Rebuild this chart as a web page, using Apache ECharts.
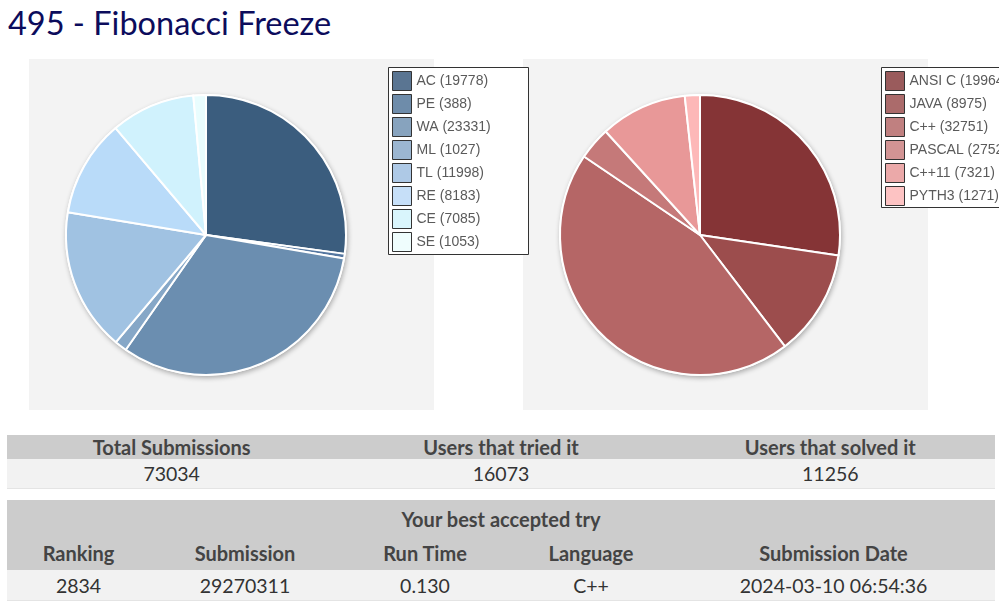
<!DOCTYPE html>
<html>
<head>
<meta charset="utf-8">
<script src="https://cdn.jsdelivr.net/npm/echarts@6/dist/echarts.min.js"></script>
<style>
  html, body { margin: 0; padding: 0; background: #fff; width: 999px; height: 604px; overflow: hidden; }
  #title { position: absolute; left: 8px; top: 3px; font-family: 'Lato', sans-serif; font-size: 32.5px; color: #0c0c5c; white-space: nowrap; }
  #chart { position: absolute; left: 0; top: 59px; width: 999px; height: 352px; }
  .row { position: absolute; left: 7px; width: 988px; }
  .hdr { background: #cccccc; }
  .dat { background: #f2f2f2; border-bottom: 1px solid #e4e4e4; }
  .cell { position: absolute; top: 0; height: 100%; display: flex; align-items: center; justify-content: center; font-family: 'Lato', sans-serif; font-size: 20px; white-space: nowrap; }
  .hdr .cell { font-weight: bold; color: #444; }
  .dat .cell { color: #333; font-size: 19.5px; }
</style>
</head>
<body>
<div id="title"></div>
<div id="chart"></div>
<div id="tables"></div>
<script>
// ---- data ----
const pageTitle = '495 - Fibonacci Freeze';
const verdictNames = ['AC', 'PE', 'WA', 'ML', 'TL', 'RE', 'CE', 'SE'];
const verdictValues = [19778, 388, 23331, 1027, 11998, 8183, 7085, 1053];
const languageNames = ['ANSI C', 'JAVA', 'C++', 'PASCAL', 'C++11', 'PYTH3'];
const languageValues = [19964, 8975, 32751, 2752, 7321, 1271];
const summaryHeaders = ['Total Submissions', 'Users that tried it', 'Users that solved it'];
const summaryValues = ['73034', '16073', '11256'];
const bestTitle = 'Your best accepted try';
const bestHeaders = ['Ranking', 'Submission', 'Run Time', 'Language', 'Submission Date'];
const bestValues = ['2834', '29270311', '0.130', 'C++', '2024-03-10 06:54:36'];

// ---- styles ----
const verdictColors = ['#3b5d7e', '#5577a0', '#6b8eb0', '#86a7c7', '#a0c2e2', '#b9dbf9', '#d0f2fd', '#e9fdfe'];
const verdictLegendColors = ['#5a7592', '#6e8caa', '#87a3be', '#9bb6d1', '#aec9e6', '#c6dff8', '#d9f5fc', '#effdfd'];
const languageColors = ['#853436', '#9c4d4d', '#b56666', '#c57979', '#e89898', '#fdb8b8'];
const languageLegendColors = ['#9a5b5c', '#ab6b6b', '#c08080', '#d29494', '#eba9a9', '#fdc3c3'];

document.getElementById('title').textContent = pageTitle;

// tables
(function () {
  const t = document.getElementById('tables');
  function row(cls, top, h, cells) {
    const r = document.createElement('div');
    r.className = 'row ' + cls;
    r.style.top = top + 'px';
    r.style.height = h + 'px';
    cells.forEach(c => {
      const d = document.createElement('div');
      d.className = 'cell';
      d.style.left = c[1] + 'px';
      d.style.width = c[2] + 'px';
      d.textContent = c[0];
      r.appendChild(d);
    });
    t.appendChild(r);
    return r;
  }
  const w3 = 988 / 3;
  row('hdr', 435, 24, summaryHeaders.map((s, i) => [s, i * w3, w3]));
  row('dat', 459, 29, summaryValues.map((s, i) => [s, i * w3, w3]));
  const colX = [0, 143, 333, 503, 665, 988];
  const last = row('hdr', 500, 70, []);
  const tt = document.createElement('div');
  tt.className = 'cell';
  tt.style.left = '0px'; tt.style.width = '988px'; tt.style.top = '3px'; tt.style.height = '32px';
  tt.textContent = bestTitle;
  last.appendChild(tt);
  bestHeaders.forEach((s, i) => {
    const d = document.createElement('div');
    d.className = 'cell';
    d.style.left = colX[i] + 'px'; d.style.width = (colX[i + 1] - colX[i]) + 'px';
    d.style.top = '37px'; d.style.height = '32px';
    d.textContent = s;
    last.appendChild(d);
  });
  row('dat', 570, 30, bestValues.map((s, i) => [s, colX[i], colX[i + 1] - colX[i]]));
})();

const chart = echarts.init(document.getElementById('chart'), null, { renderer: 'canvas' });
const lookup = {};
verdictNames.forEach((n, i) => lookup[n] = verdictValues[i]);
languageNames.forEach((n, i) => lookup[n] = languageValues[i]);

function pieSeries(names, values, colors, cx) {
  return {
    type: 'pie',
    center: [cx, 176],
    radius: 140,
    startAngle: 90,
    clockwise: true,
    animation: false,
    silent: true,
    label: { show: false },
    labelLine: { show: false },
    itemStyle: { borderColor: '#ffffff', borderWidth: 2 },
    data: names.map((n, i) => ({ name: n, value: values[i], itemStyle: { color: colors[i] } }))
  };
}
function legend(names, colors, left) {
  return {
    orient: 'vertical',
    left: left,
    top: 9,
    padding: [3, 3, 3, 3],
    itemWidth: 19,
    itemHeight: 19,
    itemGap: 3,
    icon: 'rect',
    selectedMode: false,
    itemStyle: { borderColor: '#333333', borderWidth: 1 },
    textStyle: { color: '#5a5a5a', fontSize: 14, fontFamily: 'Liberation Sans' },
    formatter: n => n + ' (' + lookup[n] + ')',
    data: names.map((n, i) => ({ name: n, itemStyle: { color: colors[i], borderColor: '#333333', borderWidth: 1 } }))
  };
}

chart.setOption({
  animation: false,
  graphic: [
    { type: 'rect', z: 0, shape: { x: 29, y: 0, width: 405, height: 351 }, style: { fill: '#f3f3f3' } },
    { type: 'rect', z: 0, shape: { x: 523, y: 0, width: 405, height: 351 }, style: { fill: '#f3f3f3' } },
    { type: 'circle', z: 1, shape: { cx: 206, cy: 176, r: 141 }, style: { fill: '#ffffff', shadowBlur: 5, shadowOffsetX: 1, shadowOffsetY: 2, shadowColor: 'rgba(0,0,0,0.3)' } },
    { type: 'circle', z: 1, shape: { cx: 700, cy: 176, r: 141 }, style: { fill: '#ffffff', shadowBlur: 5, shadowOffsetX: 1, shadowOffsetY: 2, shadowColor: 'rgba(0,0,0,0.3)' } },
    { type: 'rect', z: 1, shape: { x: 388.5, y: 8.5, width: 140, height: 187 }, style: { fill: '#ffffff', stroke: '#333333', lineWidth: 1 } },
    { type: 'rect', z: 1, shape: { x: 881.5, y: 8.5, width: 140, height: 140 }, style: { fill: '#ffffff', stroke: '#333333', lineWidth: 1 } }
  ],
  legend: [
    legend(verdictNames, verdictLegendColors, 389),
    legend(languageNames, languageLegendColors, 882)
  ],
  series: [
    pieSeries(verdictNames, verdictValues, verdictColors, 206),
    pieSeries(languageNames, languageValues, languageColors, 700)
  ]
});
</script>
</body>
</html>
